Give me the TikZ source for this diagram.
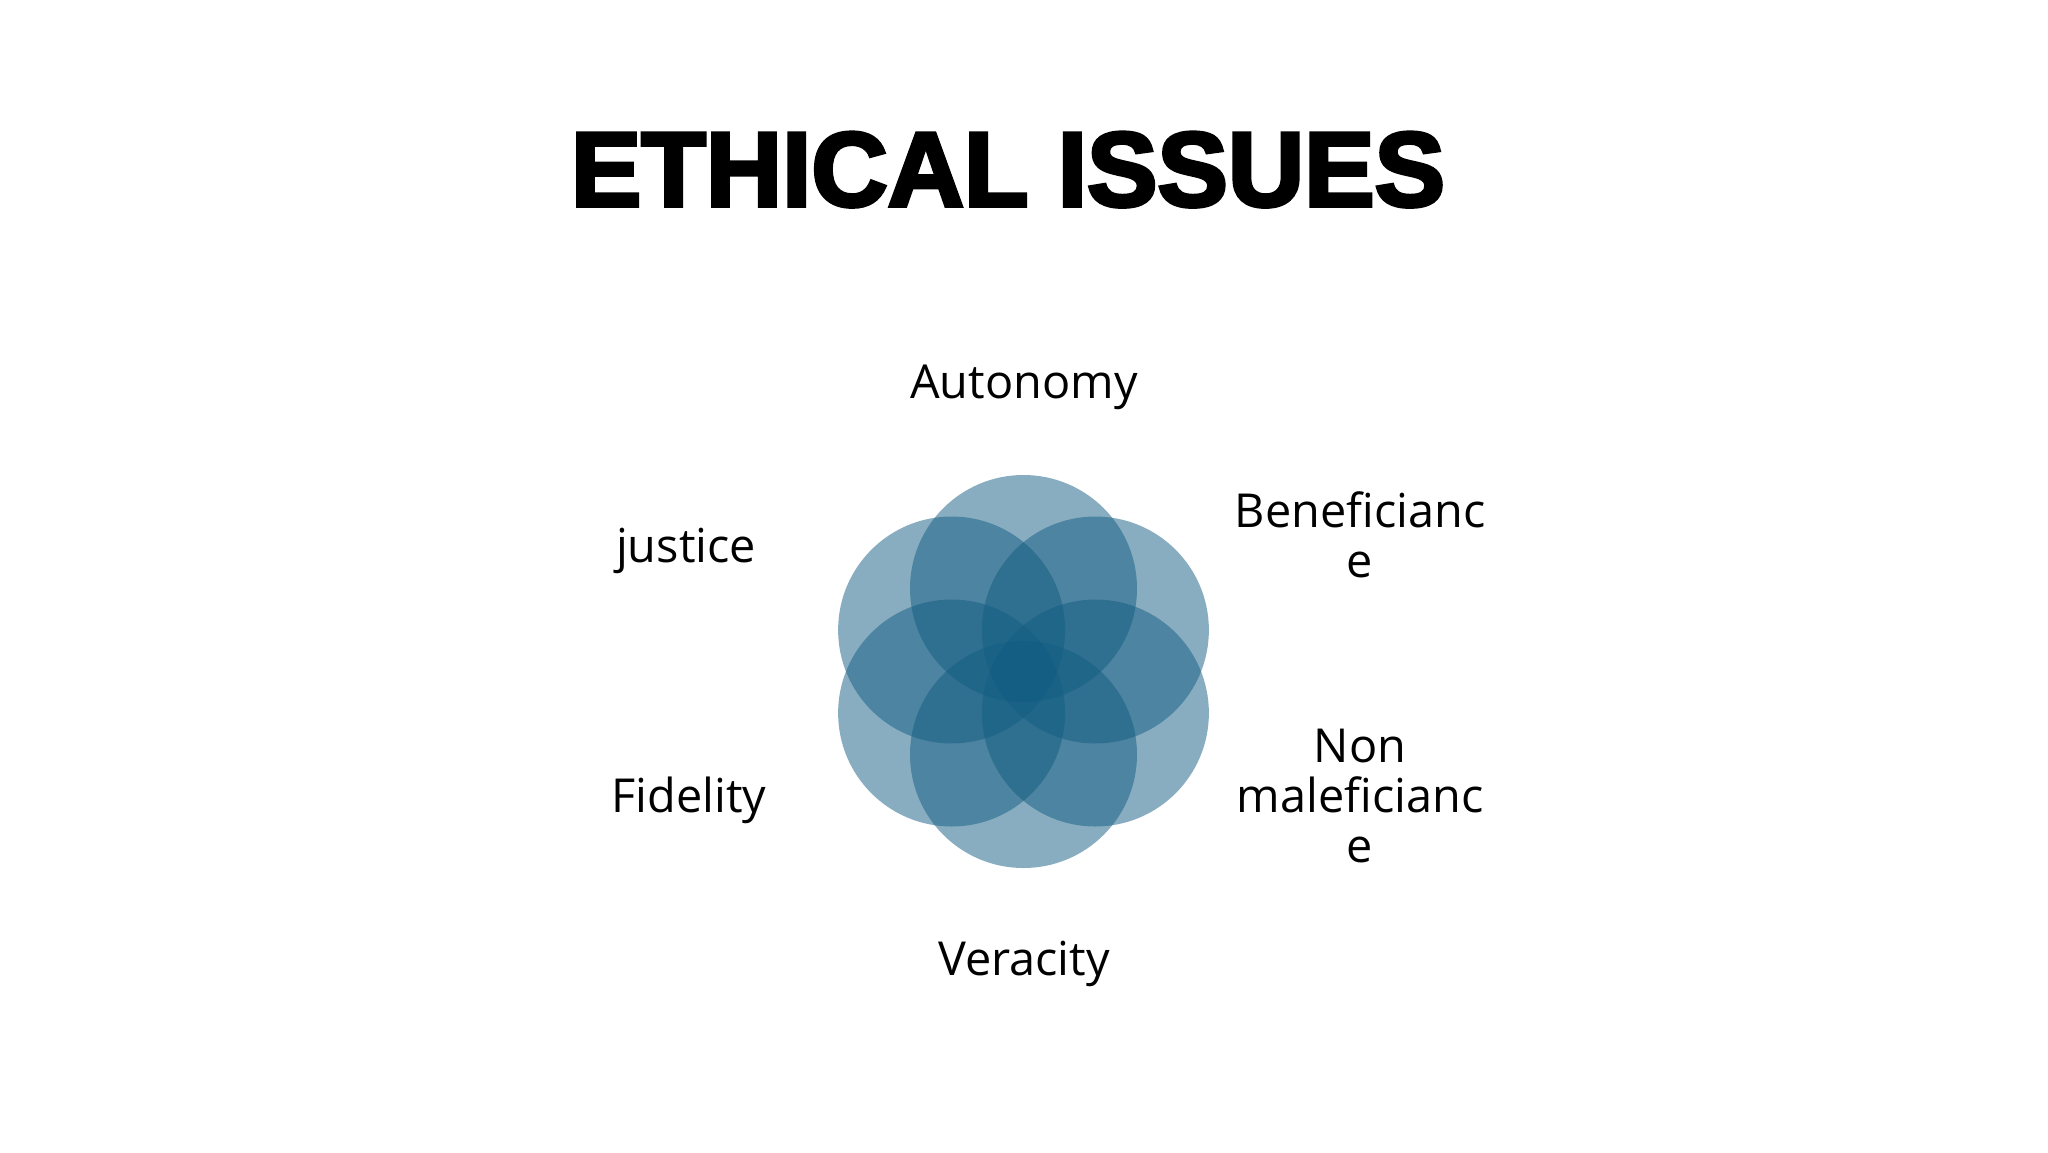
\documentclass[tikz,border=0pt]{standalone}
\usepackage{fontspec}
\usetikzlibrary{calc}
\setmainfont{Open Sans}
\newfontfamily\titlefont[FakeBold=3.5]{Liberation Sans Bold}
\definecolor{petal}{RGB}{19,93,131}
\begin{document}
\begin{tikzpicture}[x=1bp,y=-1bp,
  lbl/.style={anchor=base,inner sep=0pt,align=center,font=\fontsize{47}{50}\selectfont},
  petalc/.style={fill=petal,fill opacity=0.5,draw=none}]
\useasboundingbox[fill=white] (0,0) rectangle (2048,1152);
\node[anchor=base,inner sep=0pt,font=\titlefont\fontsize{106}{110}\selectfont] (title) at (1008,206) {ETHICAL ISSUES};
\coordinate (c) at (1023.5,671.5);
\foreach \a in {90,30,-30,-90,-150,150}{
  \fill[petalc] ($(c)+(\a:83)$) circle[radius=113.5];
}
\node[lbl] (autonomy) at (1024,398) {Autonomy};
\node[lbl] (benef) at (1360,577) {Beneficianc\\e};
\node[lbl] (nonmal) at (1360,862) {Non\\maleficianc\\e};
\node[lbl] (veracity) at (1024,975) {Veracity};
\node[lbl] (fidelity) at (689,812) {Fidelity};
\node[lbl] (justice) at (686,562) {justice};
\end{tikzpicture}
\end{document}
